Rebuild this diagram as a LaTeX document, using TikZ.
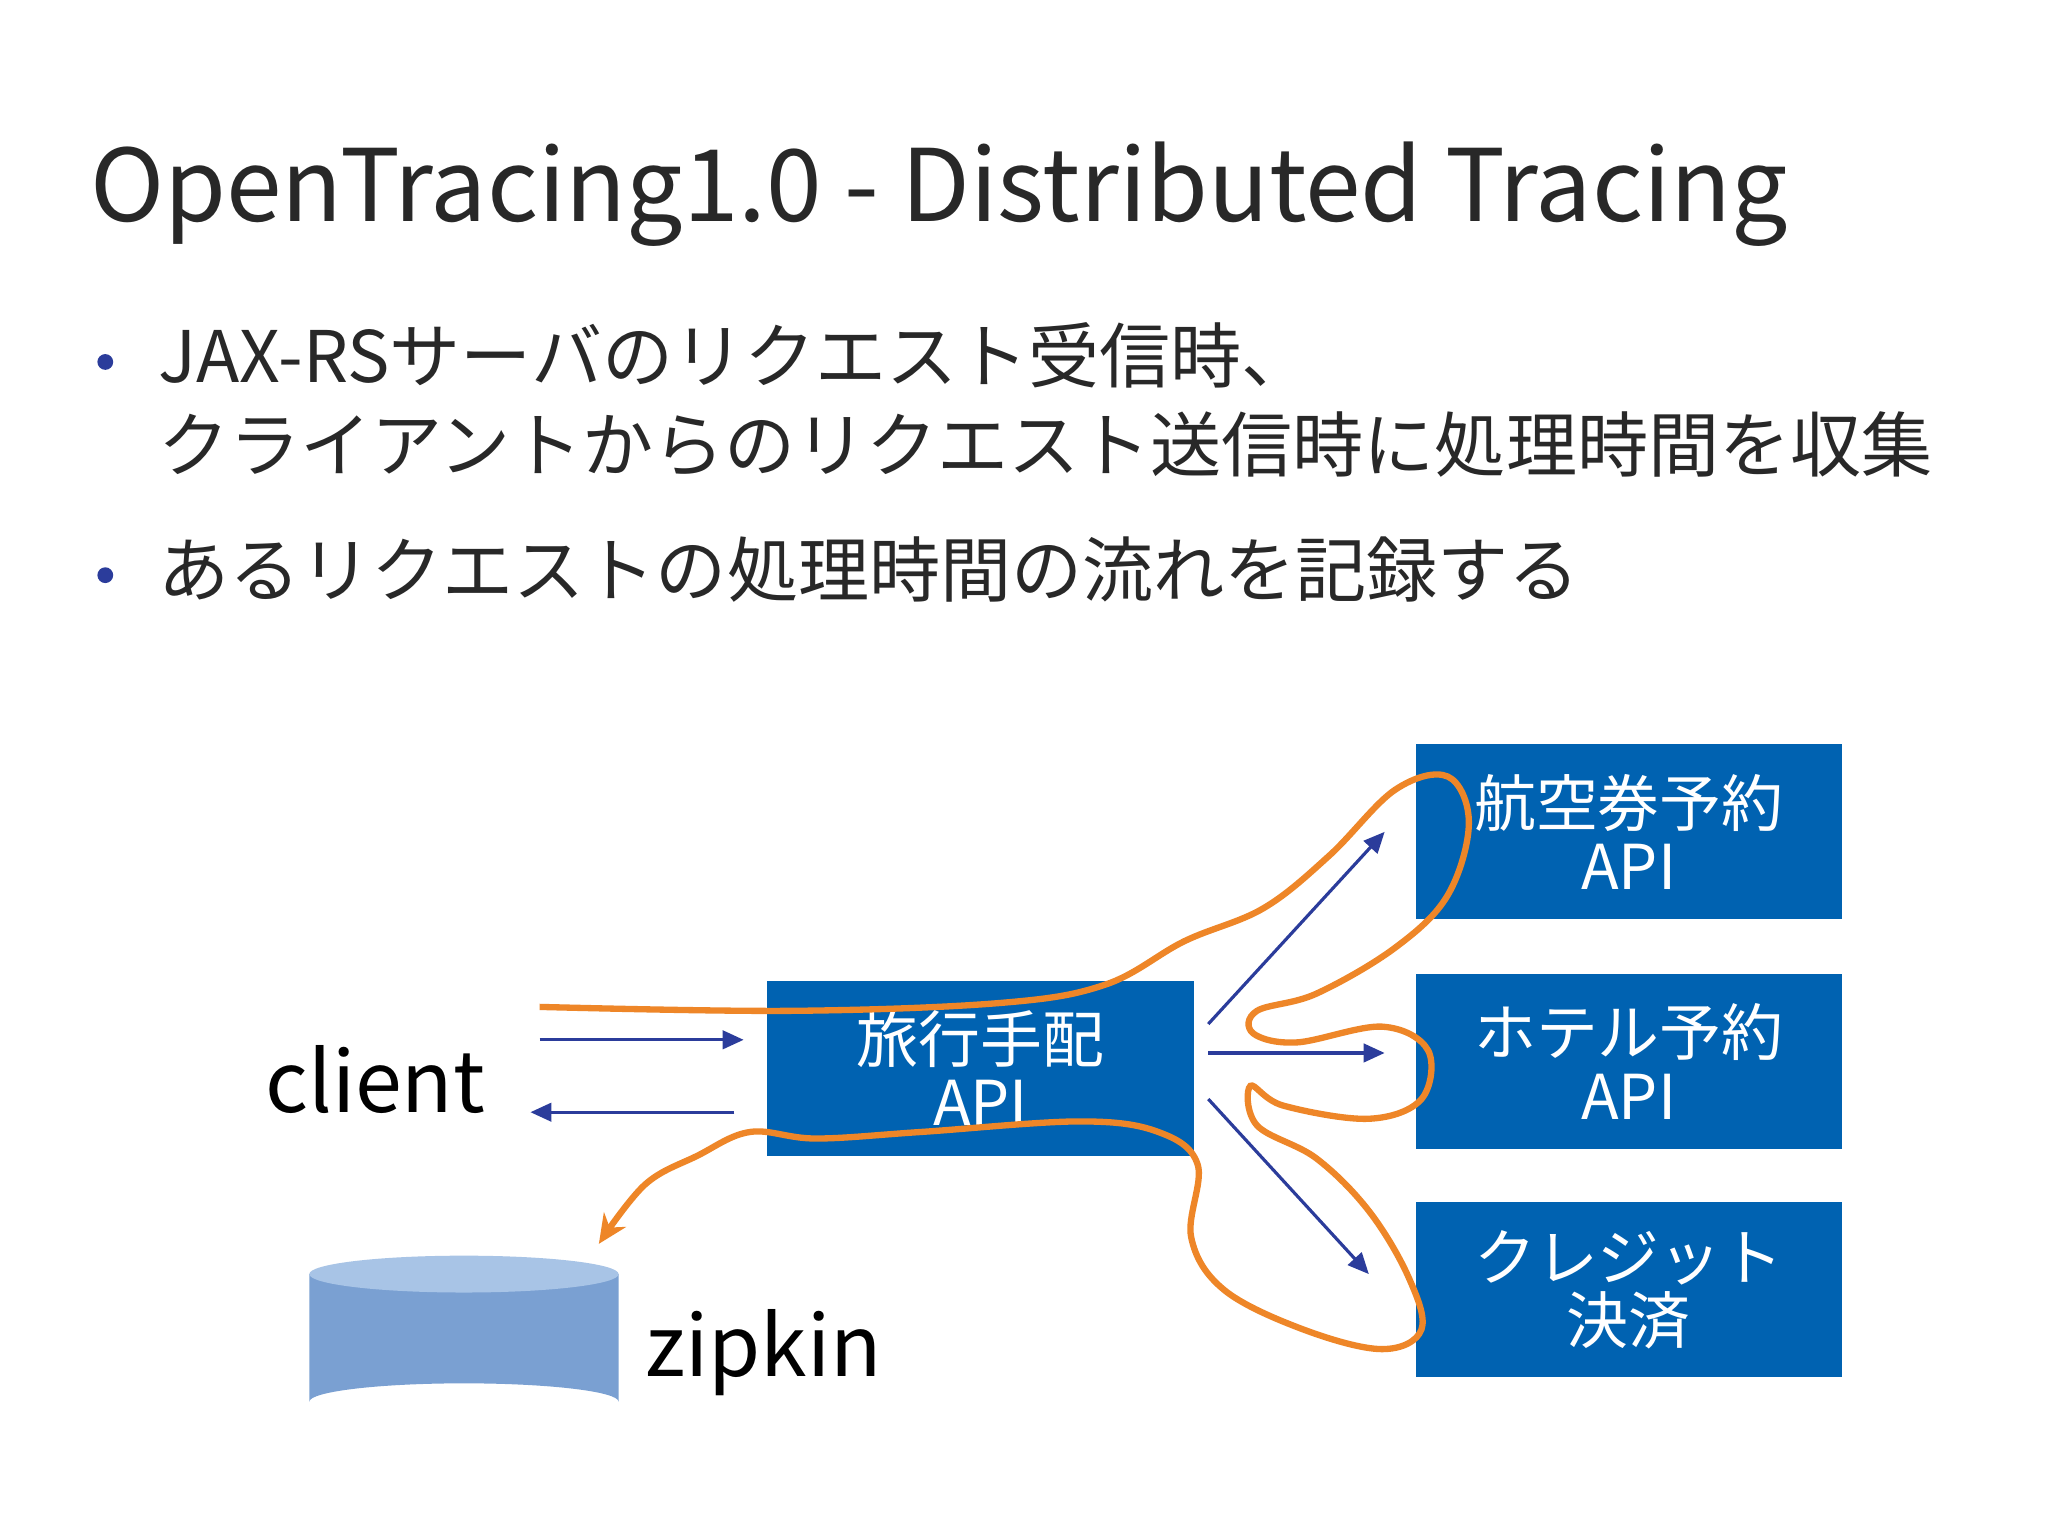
\documentclass[tikz,border=0pt]{standalone}
\usepackage{fontspec}
\setmainfont{Noto Sans CJK JP}
\usetikzlibrary{arrows.meta}
\definecolor{boxblue}{RGB}{0,98,177}
\definecolor{arrblue}{RGB}{43,60,155}
\definecolor{orng}{RGB}{238,134,40}
\definecolor{txt}{RGB}{40,40,40}
\definecolor{cylside}{RGB}{122,160,210}
\definecolor{cyltop}{RGB}{168,196,230}
\begin{document}
\begin{tikzpicture}[x=0.5pt,y=-0.5pt,
  box/.style={fill=boxblue,draw=none,minimum width=162pt,minimum height=66.5pt,text=white,font=\fontsize{23.5}{24}\selectfont,align=center,inner sep=0pt},
  barr/.style={arrblue,line width=1.2pt,-{Triangle[length=8pt,width=7pt]}},
  lbl/.style={text=txt,anchor=base west,inner sep=0pt}]
\useasboundingbox (0,0) rectangle (1556,1167);
\fill[white] (0,0) rectangle (1556,1167);
\node[lbl,font=\fontsize{38}{38}\selectfont] (title) at (68,168) {OpenTracing1.0 - Distributed Tracing};
\node[circle,fill=arrblue,inner sep=0pt,minimum size=6pt] (b1) at (80,275) {};
\node[circle,fill=arrblue,inner sep=0pt,minimum size=6pt] (b2) at (80,437) {};
\node[lbl,font=\fontsize{27}{33.5}\selectfont,anchor=north west,align=left] (t1) at (120,245) {JAX-RSサーバのリクエスト受信時、\\クライアントからのリクエスト送信時に処理時間を収集};
\node[lbl,font=\fontsize{27}{33}\selectfont,anchor=north west] (t2) at (120,407) {あるリクエストの処理時間の流れを記録する};
\node[box] (main) at (745,811.5) {旅行手配\\API};
\node[box] (air) at (1237.5,632) {航空券予約\\API};
\node[box] (hotel) at (1237.5,806.5) {ホテル予約\\API};
\node[box] (pay) at (1237.5,980) {クレジット\\決済};
\node[text=black,font=\fontsize{32}{32}\selectfont] (client) at (285,820) {client};
\node[text=black,font=\fontsize{32}{32}\selectfont] (zipkin) at (580,1028) {zipkin};
\coordinate (c1) at (410,790); \coordinate (c2) at (565,790);
\coordinate (c3) at (558,845); \coordinate (c4) at (403,845);
\draw[barr] (c1) -- (c2);
\draw[barr] (c3) -- (c4);
\draw[barr] (918,778) -- (1052,632);
\draw[barr] (918,800) -- (1052,800);
\draw[barr] (918,835) -- (1040,968);
% cylinder
\fill[cylside] (235,968) -- (235,1065) arc[start angle=180,end angle=360,x radius=117.5,y radius=14] -- (470,968) -- cycle;
\fill[cyltop] (352.5,968) ellipse[x radius=117.5,y radius=14];
\draw[orng,line width=2.4pt,-{Stealth[length=11pt,width=10pt]}] plot[smooth,tension=0.6] coordinates {
(410,765)(600,768)(760,762)(840,748)(900,715)(960,690)(1010,650)(1060,600)(1100,590)(1116,625)(1100,680)(1060,720)(1000,755)(955,768)(952,785)(985,792)(1050,780)(1085,798)(1080,835)(1040,850)(975,840)(950,825)(955,855)(1000,880)(1040,920)(1070,970)(1080,1010)(1050,1025)(990,1010)(930,980)(905,940)(910,885)(880,860)(820,852)(700,860)(620,865)(570,860)(530,878)(490,900)(455,945)};
\end{tikzpicture}
\end{document}
